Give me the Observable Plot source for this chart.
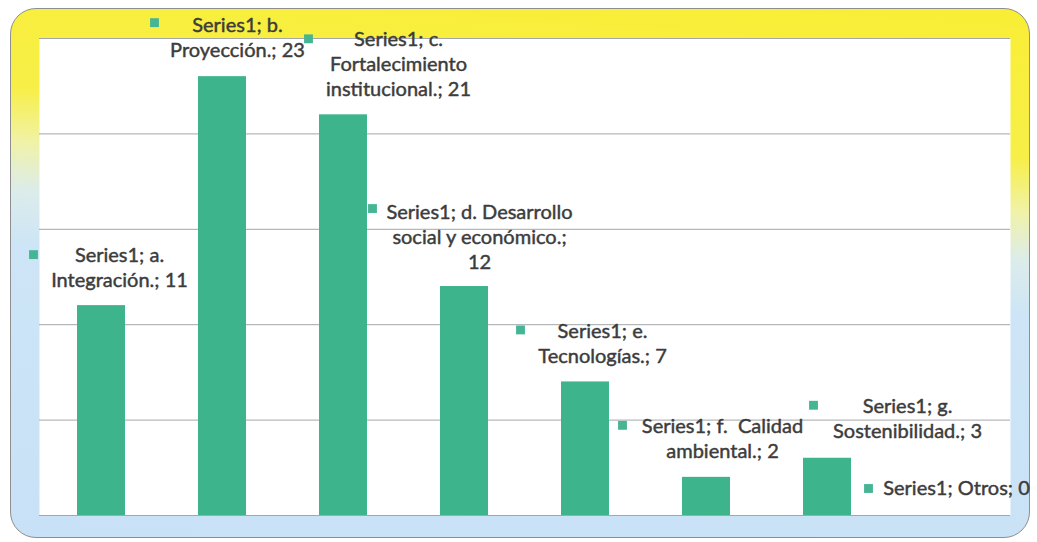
<!DOCTYPE html>
<html><head><meta charset="utf-8">
<script src="https://cdn.jsdelivr.net/npm/d3@7"></script>
<script src="https://cdn.jsdelivr.net/npm/@observablehq/plot@0.6"></script>
<style>
html,body{margin:0;padding:0;background:#fff;}
#wrap{position:relative;width:1037px;height:542px;overflow:hidden;}
#frame{position:absolute;left:10px;top:8px;width:1018px;height:528px;border:1px solid #8e8e8e;border-radius:26px;
background:linear-gradient(184deg,#f9ee35 0%,#f7ef48 25%,#f0f2a8 34%,#dcecea 42%,#cde5f6 51%,#c8e1f6 100%);}
#chart{position:absolute;left:0;top:0;}
</style></head><body><div id="wrap"><div id="frame"></div><div id="chart"></div></div>
<script>
const seriesName = "Series1";
const categories = ["a. Integración.", "b. Proyección.", "c. Fortalecimiento institucional.", "d. Desarrollo social y económico.", "e. Tecnologías.", "f.  Calidad ambiental.", "g. Sostenibilidad.", "Otros"];
const values = [11, 23, 21, 12, 7, 2, 3, 0];
const gridTicks = [0, 5, 10, 15, 20, 25];
const labelTexts = [
  "Series1; a.\nIntegración.; 11",
  "Series1; b.\nProyección.; 23",
  "Series1; c.\nFortalecimiento\ninstitucional.; 21",
  "Series1; d. Desarrollo\nsocial y económico.;\n12",
  "Series1; e.\nTecnologías.; 7",
  "Series1; f.  Calidad\nambiental.; 2",
  "Series1; g.\nSostenibilidad.; 3",
  "Series1; Otros; 0"
];
// layout offsets (px) of label text and legend key relative to bar top
const textOffsets = [[18,-61],[15,-62],[55,-87],[15,-85],[17,-62],[16,-62],[80,-63],[8,-38]];
const keyOffsets = [[-68,-51],[-68,-54],[-35,-76],[-92,-78],[-65,-52],[-84,-52],[-14,-53],[-80,-27]];

const green = "#3db48b";
const data = categories.map((c, i) => ({cat: c, value: values[i], label: labelTexts[i]}));

const marks = [
  Plot.frame({fill: "white", stroke: "none"}),
  Plot.ruleY(gridTicks, {stroke: "#a3a7ab", strokeWidth: 1}),
  Plot.barY(data, {x: "cat", y: "value", fill: green})
];
data.forEach((d, i) => {
  marks.push(Plot.dot([d], {x: "cat", y: "value", dx: keyOffsets[i][0], dy: keyOffsets[i][1], symbol: "square", r: 5, fill: "#45b594", stroke: "none"}));
  marks.push(Plot.text([d], {x: "cat", y: "value", text: "label", dx: textOffsets[i][0], dy: textOffsets[i][1],
    lineAnchor: "top", textAnchor: "middle", lineHeight: 1.25, fontSize: 20, fill: "#3c3c3c",
    stroke: "#3c3c3c", strokeWidth: 0.45}));
});

const chart = Plot.plot({
  width: 1037, height: 542,
  marginLeft: 39, marginRight: 27, marginTop: 38, marginBottom: 27,
  style: {background: "transparent", fontFamily: "Lato"},
  x: {type: "band", domain: categories, paddingInner: 0.605, paddingOuter: 0.3025, axis: null},
  y: {domain: [0, 25], axis: null},
  marks
});
document.getElementById("chart").appendChild(chart);
</script></body></html>
